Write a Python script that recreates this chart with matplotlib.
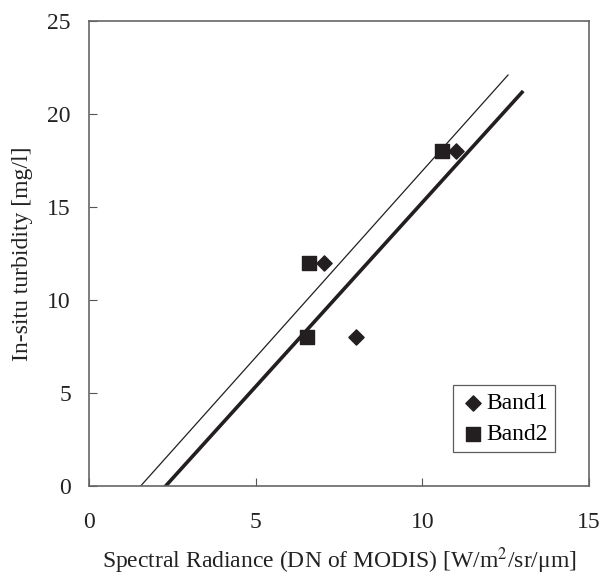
import numpy as np
import matplotlib.pyplot as plt

plt.rcParams['font.family'] = ['Liberation Serif', 'DejaVu Serif']
plt.rcParams['mathtext.fontset'] = 'stix'

# measured points
band1_x = [7.05, 8.0, 11.0]
band1_y = [12, 8, 18]
band2_x = [6.55, 6.6, 10.6]
band2_y = [8, 12, 18]

# regression lines: slope, x-intercept, x end
thin_slope, thin_x0, thin_x1 = 2.005, 1.55, 12.57
thick_slope, thick_x0, thick_x1 = 1.98, 2.3, 12.99

col = '#231f20'

fig = plt.figure(figsize=(6.02, 5.81), dpi=100)
ax = fig.add_axes([89/602, 95/581, 500/602, 465/581])

xt = np.array([thin_x0, thin_x1])
ax.plot(xt, thin_slope*(xt-thin_x0), color=col, lw=0.9)
xk = np.array([thick_x0, thick_x1])
ax.plot(xk, thick_slope*(xk-thick_x0), color=col, lw=2.6)

ax.scatter(band1_x, band1_y, marker='D', s=60, color=col, label='Band1', zorder=3)
ax.scatter(band2_x, band2_y, marker='s', s=110, color=col, label='Band2', zorder=3)

ax.set_xlim(0, 15)
ax.set_ylim(0, 25)
ax.set_xticks([0, 5, 10, 15])
ax.set_yticks([0, 5, 10, 15, 20, 25])
ax.tick_params(direction='in', length=6, labelsize=17, colors='#555555', labelcolor='#222222')
ax.tick_params(axis='y', pad=13)
ax.tick_params(axis='x', pad=19)
for s in ax.spines.values():
    s.set_color('#666666')
    s.set_linewidth(1.2)

ax.set_xlabel('Spectral Radiance (DN of MODIS) [W/m$^2$/sr/\u03bcm]', fontsize=17, labelpad=9, color='#222222')
ax.set_ylabel('In-situ turbidity [mg/l]', fontsize=17, labelpad=10, color='#222222')

leg = ax.legend(loc='lower right', bbox_to_anchor=(0.932, 0.073), fontsize=17, frameon=True,
                fancybox=False, edgecolor='#333333', handletextpad=0.0, borderpad=0.3,
                handlelength=1.1, labelspacing=0.4, borderaxespad=0)
leg.get_frame().set_linewidth(0.9)

fig.savefig('out.png', dpi=100)
